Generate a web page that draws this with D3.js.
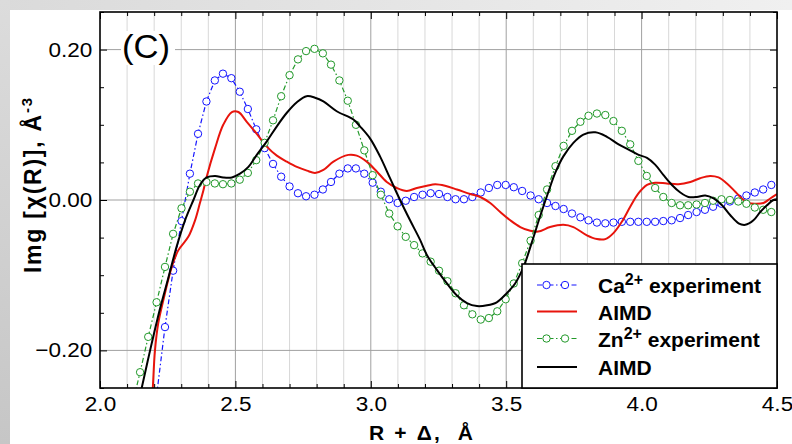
<!DOCTYPE html>
<html>
<head>
<meta charset="utf-8">
<script src="https://cdn.jsdelivr.net/npm/d3@7"></script>
<style>
  body { margin: 0; background: #ffffff; }
  svg { display: block; }
</style>
</head>
<body>
<svg width="792" height="444"></svg>
<script>
// R grid of the experimental spectra (Angstrom)
const rExp = [2.117, 2.148, 2.178, 2.209, 2.240, 2.270, 2.301, 2.332, 2.362, 2.393,
  2.424, 2.454, 2.485, 2.516, 2.546, 2.577, 2.608, 2.639, 2.669, 2.700,
  2.731, 2.761, 2.792, 2.823, 2.853, 2.884, 2.915, 2.945, 2.976, 3.007,
  3.037, 3.068, 3.099, 3.129, 3.160, 3.191, 3.221, 3.252, 3.283, 3.313,
  3.344, 3.375, 3.406, 3.436, 3.467, 3.498, 3.528, 3.559, 3.590, 3.620,
  3.651, 3.682, 3.712, 3.743, 3.774, 3.804, 3.835, 3.866, 3.896, 3.927,
  3.958, 3.988, 4.019, 4.050, 4.080, 4.111, 4.142, 4.172, 4.203, 4.234,
  4.264, 4.295, 4.326, 4.357, 4.387, 4.418, 4.449, 4.479];

// Ca2+ experiment (first points are off the chart)
const caExp = [null, null, null, -0.260, -0.169, -0.094, -0.028, 0.035, 0.088, 0.131,
  0.159, 0.168, 0.162, 0.144, 0.121, 0.094, 0.069, 0.048, 0.031, 0.018,
  0.009, 0.005, 0.007, 0.014, 0.024, 0.035, 0.042, 0.042, 0.035, 0.023,
  0.011, 0.001, -0.004, -0.001, 0.004, 0.007, 0.009, 0.008, 0.004, 0.001,
  0.001, 0.004, 0.010, 0.016, 0.020, 0.020, 0.017, 0.012, 0.006, 0.001,
  -0.004, -0.008, -0.012, -0.018, -0.023, -0.027, -0.030, -0.031, -0.030, -0.029,
  -0.029, -0.029, -0.029, -0.029, -0.028, -0.027, -0.024, -0.020, -0.016, -0.013,
  -0.009, -0.005, -0.002, 0.002, 0.006, 0.010, 0.014, 0.020];

// Zn2+ experiment
const znExp = [-0.276, -0.229, -0.182, -0.136, -0.089, -0.045, -0.011, 0.011, 0.022, 0.024,
  0.022, 0.021, 0.022, 0.027, 0.036, 0.053, 0.076, 0.106, 0.138, 0.166,
  0.187, 0.198, 0.201, 0.195, 0.180, 0.159, 0.132, 0.100, 0.066, 0.033,
  0.007, -0.018, -0.035, -0.049, -0.060, -0.071, -0.082, -0.094, -0.108, -0.124,
  -0.140, -0.152, -0.159, -0.157, -0.148, -0.132, -0.111, -0.084, -0.054, -0.020,
  0.014, 0.045, 0.072, 0.092, 0.104, 0.112, 0.115, 0.113, 0.105, 0.092,
  0.074, 0.052, 0.032, 0.016, 0.004, -0.004, -0.007, -0.007, -0.006, -0.004,
  -0.001, 0.001, 0.000, -0.002, -0.005, -0.010, -0.013, -0.016];

// Ca2+ AIMD (red)
const rCaAimd = [2.187, 2.195, 2.203, 2.215, 2.234, 2.265, 2.289, 2.326, 2.351, 2.369,
  2.382, 2.394, 2.425, 2.455, 2.487, 2.511, 2.542, 2.579, 2.616, 2.653,
  2.690, 2.727, 2.764, 2.794, 2.825, 2.862, 2.917, 2.948, 2.985, 3.022,
  3.059, 3.096, 3.133, 3.170, 3.207, 3.238, 3.274, 3.318, 3.367, 3.404,
  3.441, 3.478, 3.515, 3.552, 3.589, 3.618, 3.662, 3.711, 3.748, 3.798,
  3.835, 3.866, 3.896, 3.927, 3.958, 3.989, 4.020, 4.050, 4.093, 4.136,
  4.180, 4.216, 4.253, 4.284, 4.315, 4.346, 4.370, 4.395, 4.420, 4.450,
  4.475, 4.500];
const caAimd = [-0.300, -0.250, -0.200, -0.164, -0.133, -0.089, -0.067, -0.049, -0.027, -0.004,
  0.013, 0.031, 0.069, 0.100, 0.117, 0.117, 0.104, 0.088, 0.071, 0.059,
  0.051, 0.044, 0.039, 0.036, 0.040, 0.051, 0.060, 0.059, 0.051, 0.038,
  0.024, 0.016, 0.012, 0.016, 0.019, 0.021, 0.019, 0.014, 0.008, 0.004,
  -0.004, -0.016, -0.027, -0.036, -0.041, -0.042, -0.036, -0.033, -0.036, -0.047,
  -0.052, -0.052, -0.044, -0.029, -0.009, 0.009, 0.020, 0.023, 0.022, 0.021,
  0.024, 0.029, 0.032, 0.030, 0.022, 0.011, 0.002, -0.004, -0.005, -0.004,
  0.002, 0.008];

// Zn2+ AIMD (black)
const rZnAimd = [2.142, 2.154, 2.185, 2.222, 2.252, 2.283, 2.314, 2.345, 2.369, 2.394,
  2.425, 2.455, 2.487, 2.517, 2.548, 2.579, 2.616, 2.653, 2.690, 2.727,
  2.763, 2.794, 2.825, 2.874, 2.936, 2.960, 2.997, 3.034, 3.071, 3.108,
  3.145, 3.182, 3.207, 3.244, 3.281, 3.318, 3.355, 3.392, 3.429, 3.465,
  3.502, 3.533, 3.564, 3.595, 3.625, 3.655, 3.681, 3.711, 3.748, 3.785,
  3.829, 3.872, 3.915, 3.952, 3.989, 4.020, 4.050, 4.081, 4.112, 4.143,
  4.173, 4.204, 4.235, 4.266, 4.297, 4.327, 4.358, 4.383, 4.413, 4.438,
  4.463, 4.487, 4.500];
const znAimd = [-0.270, -0.250, -0.200, -0.144, -0.104, -0.062, -0.027, 0.000, 0.020, 0.030,
  0.032, 0.030, 0.030, 0.035, 0.044, 0.060, 0.078, 0.098, 0.116, 0.130,
  0.138, 0.136, 0.131, 0.118, 0.107, 0.098, 0.082, 0.058, 0.029, 0.000,
  -0.027, -0.053, -0.073, -0.093, -0.111, -0.127, -0.137, -0.141, -0.140, -0.136,
  -0.124, -0.111, -0.089, -0.056, -0.022, 0.010, 0.036, 0.058, 0.076, 0.087,
  0.090, 0.084, 0.074, 0.067, 0.060, 0.056, 0.047, 0.033, 0.020, 0.010,
  0.004, 0.004, 0.006, 0.002, -0.007, -0.020, -0.031, -0.033, -0.027, -0.016,
  -0.007, 0.000, 0.001];

const xTicks = d3.range(20, 46).map(d => d / 10);
const yTicks = d3.range(-25, 26, 5).map(d => d / 100);
const yGrid = [-0.2, 0.0, 0.2];

const legendItems = [
  { label: "Ca", sup: "2+", rest: " experiment", color: "#1414ff", marker: true, dash: "5,2.5,1.5,2.5", width: 1.2 },
  { label: "AIMD", color: "#e8140c", marker: false, dash: null, width: 2 },
  { label: "Zn", sup: "2+", rest: " experiment", color: "#22992a", marker: true, dash: "5,2.5,1.5,2.5", width: 1.2 },
  { label: "AIMD", color: "#000000", marker: false, dash: null, width: 2 }
];

const FONT = "'Liberation Sans', Arial, Helvetica, sans-serif";

let svg = d3.select("svg");
let m = { left: 100, right: 777, top: 12, bottom: 388 };

let x = d3.scaleLinear().domain([2.0, 4.5]).range([m.left, m.right]);
let y = d3.scaleLinear().domain([-0.25, 0.25]).range([m.bottom, m.top]);

// page background with grey strips at the top and left
let defs = svg.append("defs");
let gv = defs.append("linearGradient").attr("id", "gv").attr("x1", 0).attr("y1", 0).attr("x2", 0).attr("y2", 1);
gv.append("stop").attr("offset", 0).attr("stop-color", "#dcdcdc");
gv.append("stop").attr("offset", 1).attr("stop-color", "#c6c6c6");
let gh = defs.append("linearGradient").attr("id", "gh").attr("x1", 0).attr("y1", 0).attr("x2", 1).attr("y2", 0);
gh.append("stop").attr("offset", 0).attr("stop-color", "#dadada");
gh.append("stop").attr("offset", 1).attr("stop-color", "#f0f0f0");
defs.append("clipPath").attr("id", "plot-clip")
  .append("rect").attr("x", m.left).attr("y", m.top)
  .attr("width", m.right - m.left).attr("height", m.bottom - m.top);

svg.append("rect").attr("width", 792).attr("height", 444).attr("fill", "#ffffff");
svg.append("rect").attr("width", 792).attr("height", 10).attr("fill", "url(#gh)");
svg.append("rect").attr("width", 10).attr("height", 444).attr("fill", "url(#gv)");

const isMajorX = d => Math.abs(d * 2 - Math.round(d * 2)) < 1e-6;
const isMajorY = d => Math.abs(d * 5 - Math.round(d * 5)) < 1e-6;

// grid
let grid = svg.append("g").attr("class", "grid");
grid.selectAll("line.v")
  .data(xTicks.filter(d => d > 2.01 && d < 4.49))
  .enter().append("line")
  .attr("class", "v")
  .attr("x1", d => x(d)).attr("x2", d => x(d))
  .attr("y1", m.top).attr("y2", m.bottom)
  .attr("stroke", d => isMajorX(d) ? "#a0a0a0" : "#d8d8d8")
  .attr("stroke-width", 1);
grid.selectAll("line.h")
  .data(yGrid)
  .enter().append("line")
  .attr("class", "h")
  .attr("x1", m.left).attr("x2", m.right)
  .attr("y1", d => y(d)).attr("y2", d => y(d))
  .attr("stroke", "#a0a0a0")
  .attr("stroke-width", 1);

// white patch behind the panel letter
svg.append("rect").attr("x", 121).attr("y", 31).attr("width", 54).attr("height", 34).attr("fill", "#ffffff");
svg.append("text")
  .attr("transform", "translate(122,58) scale(1.05,1)")
  .attr("font-family", FONT).attr("font-size", 33)
  .attr("fill", "#000")
  .text("(C)");

// series
let plot = svg.append("g").attr("clip-path", "url(#plot-clip)");

function drawExperiment(vals, color) {
  let pts = rExp.map((r, i) => ({ r: r, v: vals[i] })).filter(p => p.v !== null);
  let line = d3.line().x(d => x(d.r)).y(d => y(d.v));
  plot.append("path")
    .datum(pts)
    .attr("d", line)
    .attr("fill", "none")
    .attr("stroke", color)
    .attr("stroke-width", 1.2)
    .attr("stroke-dasharray", "5,2.5,1.5,2.5");
  plot.append("g").selectAll("circle")
    .data(pts)
    .enter().append("circle")
    .attr("cx", d => x(d.r))
    .attr("cy", d => y(d.v))
    .attr("r", 3.7)
    .attr("fill", "#ffffff")
    .attr("stroke", color)
    .attr("stroke-width", 1);
}

function drawModel(rs, vals, color) {
  let pts = rs.map((r, i) => ({ r: r, v: vals[i] }));
  let line = d3.line().curve(d3.curveCatmullRom.alpha(0.5)).x(d => x(d.r)).y(d => y(d.v));
  plot.append("path")
    .datum(pts)
    .attr("d", line)
    .attr("fill", "none")
    .attr("stroke", color)
    .attr("stroke-width", 2)
    .attr("stroke-linejoin", "round");
}

drawExperiment(caExp, legendItems[0].color);
drawModel(rCaAimd, caAimd, legendItems[1].color);
drawExperiment(znExp, legendItems[2].color);
drawModel(rZnAimd, znAimd, legendItems[3].color);

// axes (ticks point inward on all four sides)
function tidy(g) {
  g.select(".domain").remove();
  g.attr("font-family", FONT).attr("font-size", 20.5);
  g.selectAll(".tick line").attr("stroke", "#000").attr("stroke-width", 1);
  g.selectAll(".tick text").attr("fill", "#000").attr("transform", "scale(1.1,1)");
}

let xBottom = svg.append("g")
  .attr("transform", `translate(0,${m.bottom})`)
  .call(d3.axisBottom(x).tickValues(xTicks).tickSizeInner(-4).tickSizeOuter(0).tickPadding(8)
    .tickFormat(d => isMajorX(d) ? d.toFixed(1) : ""))
  .call(tidy);
xBottom.selectAll(".tick line").attr("y2", d => isMajorX(d) ? -7 : -4);

let xTop = svg.append("g")
  .attr("transform", `translate(0,${m.top})`)
  .call(d3.axisTop(x).tickValues(xTicks).tickSizeInner(-4).tickSizeOuter(0).tickFormat(""))
  .call(tidy);
xTop.selectAll(".tick line").attr("y2", d => isMajorX(d) ? 7 : 4);

let yLeft = svg.append("g")
  .attr("transform", `translate(${m.left},0)`)
  .call(d3.axisLeft(y).tickValues(yTicks).tickSizeInner(-4).tickSizeOuter(0).tickPadding(7)
    .tickFormat(d => isMajorY(d) ? d3.format(".2f")(d) : ""))
  .call(tidy);
yLeft.selectAll(".tick line").attr("x2", d => isMajorY(d) ? 7 : 4);

let yRight = svg.append("g")
  .attr("transform", `translate(${m.right},0)`)
  .call(d3.axisRight(y).tickValues(yTicks).tickSizeInner(-4).tickSizeOuter(0).tickFormat(""))
  .call(tidy);
yRight.selectAll(".tick line").attr("x2", d => isMajorY(d) ? -7 : -4);

// frame
svg.append("rect")
  .attr("x", m.left).attr("y", m.top)
  .attr("width", m.right - m.left).attr("height", m.bottom - m.top)
  .attr("fill", "none").attr("stroke", "#000").attr("stroke-width", 1.6);

// axis titles
svg.append("text")
  .attr("x", 369).attr("y", 440)
  .attr("font-family", FONT).attr("font-size", 21).attr("font-weight", "bold")
  .attr("textLength", 104).attr("lengthAdjust", "spacing")
  .attr("xml:space", "preserve")
  .text("R + \u0394,  \u00C5");

let ylab = svg.append("text")
  .attr("transform", "translate(41,273) rotate(-90)")
  .attr("font-family", FONT).attr("font-size", 23).attr("font-weight", "bold")
  .attr("textLength", 175).attr("lengthAdjust", "spacing");
ylab.append("tspan").text("Img [\u03C7(R)], \u00C5");
ylab.append("tspan").attr("dy", -9).attr("font-size", 15).text("-3");

// legend
let lg = svg.append("g");
lg.append("rect")
  .attr("x", 522).attr("y", 264)
  .attr("width", m.right - 522).attr("height", m.bottom - 264)
  .attr("fill", "#ffffff").attr("stroke", "#000").attr("stroke-width", 1.6);

const rowY = [285, 311.5, 338.5, 367];
legendItems.forEach((it, i) => {
  let row = lg.append("g").attr("transform", `translate(0,${rowY[i]})`);
  row.append("line")
    .attr("x1", 537).attr("x2", 577).attr("y1", 0).attr("y2", 0)
    .attr("stroke", it.color).attr("stroke-width", it.width)
    .attr("stroke-dasharray", it.dash);
  if (it.marker) {
    row.selectAll("circle").data([546.5, 565]).enter().append("circle")
      .attr("cx", d => d).attr("cy", 0).attr("r", 3.7)
      .attr("fill", "#ffffff").attr("stroke", it.color).attr("stroke-width", 1);
  }
  let t = row.append("text")
    .attr("x", 598).attr("y", 8)
    .attr("font-family", FONT).attr("font-size", 21).attr("font-weight", "bold")
    .attr("xml:space", "preserve");
  t.append("tspan").text(it.label);
  if (it.sup) {
    t.append("tspan").attr("dy", -8).attr("font-size", 16).text(it.sup);
    t.append("tspan").attr("dy", 8).text(it.rest);
  }
});
</script>
</body>
</html>
